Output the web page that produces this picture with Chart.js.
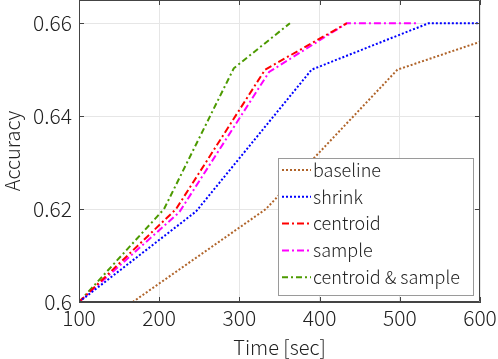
<!DOCTYPE html>
<html>
<head>
<meta charset="utf-8">
<script src="https://cdn.jsdelivr.net/npm/chart.js@4.4.0/dist/chart.umd.min.js"></script>
<style>
html,body{margin:0;padding:0;background:#fff;}
#wrap{width:498px;height:359px;position:relative;}
</style>
</head>
<body>
<div id="wrap"><canvas id="c" width="498" height="359"></canvas></div>
<script>
// ---- data ----
const seriesLabels = ["baseline", "shrink", "centroid", "sample", "centroid & sample"];
const baselineTime = [167, 333, 497, 600];
const baselineAcc  = [0.600, 0.620, 0.650, 0.656];
const shrinkTime   = [100, 246, 390, 536, 600];
const shrinkAcc    = [0.600, 0.6195, 0.650, 0.660, 0.660];
const centroidTime = [100, 221, 332, 434];
const centroidAcc  = [0.600, 0.620, 0.650, 0.660];
const sampleTime   = [100, 225, 337, 434, 521];
const sampleAcc    = [0.600, 0.6193, 0.6495, 0.660, 0.660];
const bothTime     = [100, 206, 293, 363];
const bothAcc      = [0.600, 0.620, 0.6503, 0.660];
const xTicks = [100, 200, 300, 400, 500, 600];
const yTicks = [0.6, 0.62, 0.64, 0.66];
const yTickLabels = ["0.6", "0.62", "0.64", "0.66"];

const pts = (xs, ys) => xs.map((x, i) => ({x: x, y: ys[i]}));
const FONT = "'Noto Sans CJK JP', 'Noto Sans', sans-serif";
const WEIGHT = 300;

function ds(label, xs, ys, color, dash) {
  return {label, data: pts(xs, ys), borderColor: color, backgroundColor: color,
    borderWidth: 2, borderDash: dash, pointRadius: 0, tension: 0, fill: false};
}

const frame = {
  id: 'frame',
  afterDatasetsDraw(chart) {
    const ctx = chart.ctx, a = chart.chartArea;
    const xs = chart.scales.x, ys = chart.scales.y;
    ctx.save();
    ctx.strokeStyle = '#444';
    ctx.lineWidth = 1;
    ctx.beginPath();
    ctx.rect(a.left + 0.5, a.top + 0.5, a.right - a.left - 1, a.bottom - a.top - 1);
    ctx.stroke();
    ctx.beginPath();
    xTicks.forEach(v => {
      const p = Math.round(xs.getPixelForValue(v)) + 0.5;
      ctx.moveTo(p, a.bottom); ctx.lineTo(p, a.bottom - 5);
      ctx.moveTo(p, a.top); ctx.lineTo(p, a.top + 5);
    });
    yTicks.forEach(v => {
      const p = Math.round(ys.getPixelForValue(v)) + 0.5;
      ctx.moveTo(a.left, p); ctx.lineTo(a.left + 5, p);
      ctx.moveTo(a.right, p); ctx.lineTo(a.right - 5, p);
    });
    ctx.stroke();
    // legend
    const lx = 278, ly = 158, lw = 195, lh = 137;
    ctx.fillStyle = '#fff';
    ctx.fillRect(lx, ly, lw, lh);
    ctx.strokeStyle = '#9a9a9a';
    ctx.strokeRect(lx + 0.5, ly + 0.5, lw, lh);
    ctx.font = WEIGHT + ' 18px ' + FONT;
    ctx.textBaseline = 'middle';
    ctx.textAlign = 'left';
    chart.data.datasets.forEach((d, i) => {
      const y = ly + 12 + i * 26.8;
      ctx.strokeStyle = d.borderColor;
      ctx.lineWidth = 2;
      ctx.setLineDash(d.borderDash);
      ctx.beginPath();
      ctx.moveTo(282, y); ctx.lineTo(311, y);
      ctx.stroke();
      ctx.setLineDash([]);
      ctx.fillStyle = '#222';
      ctx.fillText(d.label, 313, y);
    });
    ctx.restore();
  }
};

new Chart(document.getElementById('c'), {
  type: 'line',
  data: {
    datasets: [
      ds(seriesLabels[0], baselineTime, baselineAcc, '#b0642a', [2, 2]),
      ds(seriesLabels[1], shrinkTime, shrinkAcc, '#0000ff', [2, 2]),
      ds(seriesLabels[2], centroidTime, centroidAcc, '#ff0000', [7, 3, 2, 3]),
      ds(seriesLabels[3], sampleTime, sampleAcc, '#ff00ff', [7, 3, 2, 3]),
      ds(seriesLabels[4], bothTime, bothAcc, '#4c9a00', [6, 3, 2, 3])
    ]
  },
  options: {
    responsive: false,
    animation: false,
    layout: {padding: {left: 0, right: 18, top: 0, bottom: 0}},
    plugins: {legend: {display: false}, tooltip: {enabled: false}},
    scales: {
      x: {
        type: 'linear', min: 100, max: 600,
        afterBuildTicks: s => { s.ticks = xTicks.map(v => ({value: v})); },
        afterFit: s => { s.height = 57; s.paddingLeft = 0; s.paddingRight = 0; },
        grid: {color: '#e6e6e6', drawTicks: false},
        border: {color: '#444'},
        ticks: {color: '#222', font: {family: FONT, size: 21, weight: WEIGHT}, padding: 3,
          callback: v => String(v)},
        title: {display: true, text: 'Time [sec]', color: '#222',
          font: {family: FONT, size: 20, weight: WEIGHT}, padding: {top: 0, bottom: 0}}
      },
      y: {
        type: 'linear', min: 0.6, max: 0.665,
        afterBuildTicks: s => { s.ticks = yTicks.map(v => ({value: v})); },
        afterFit: s => { s.width = 79; s.paddingTop = 0; s.paddingBottom = 0; },
        grid: {color: '#e6e6e6', drawTicks: false},
        border: {color: '#444'},
        ticks: {color: '#222', font: {family: FONT, size: 21, weight: WEIGHT}, padding: 7,
          callback: (v) => { const i = yTicks.findIndex(t => Math.abs(t - v) < 1e-9); return i >= 0 ? yTickLabels[i] : ''; }},
        title: {display: true, text: 'Accuracy', color: '#222',
          font: {family: FONT, size: 20, weight: WEIGHT}, padding: {top: 0, bottom: 0}}
      }
    }
  },
  plugins: [frame]
});
</script>
</body>
</html>
